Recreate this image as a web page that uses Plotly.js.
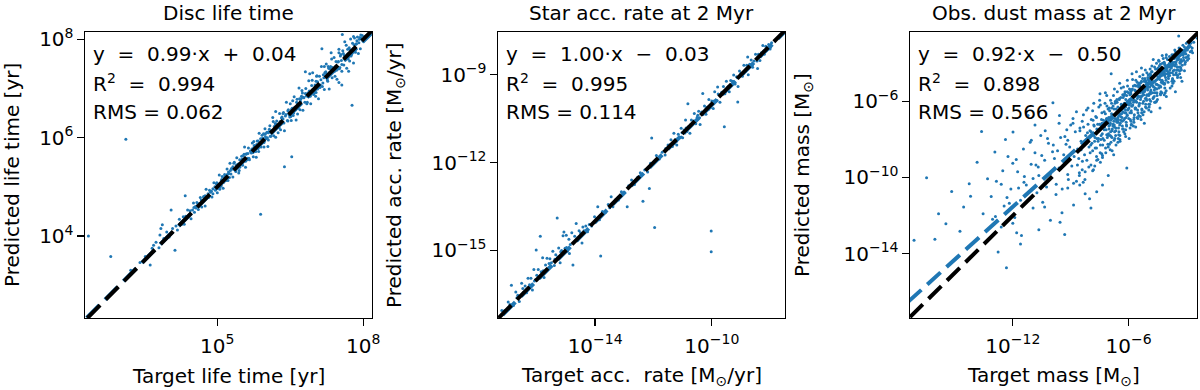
<!DOCTYPE html>
<html>
<head>
<meta charset="utf-8">
<script src="https://cdn.plot.ly/plotly-3.0.1.min.js"></script>
<style>
  html, body { margin: 0; padding: 0; background: #fff; }
  #chart { width: 1200px; height: 390px; }
</style>
</head>
<body>
<div id="chart"></div>
<script>
// all values are log10

// disc life time [yr]
var lifeTarget = [
  2.35, 2.81, 3.12, 3.22, 3.41, 3.52, 3.62, 3.66, 3.69, 3.74,
  3.80, 3.82, 3.84, 3.87, 3.90, 3.96, 4.01, 4.05, 4.08, 4.13,
  4.15, 4.18, 4.22, 4.24, 4.27, 4.30, 4.32, 4.34, 4.36, 4.39,
  4.41, 4.44, 4.46, 4.49, 4.51, 4.53, 4.56, 4.58, 4.61, 4.63,
  4.65, 4.68, 4.70, 4.72, 4.75, 4.77, 4.79, 4.82, 4.84, 4.86,
  4.89, 4.91, 4.93, 4.96, 4.98, 5.00, 5.02, 5.04, 5.06, 5.08,
  5.10, 5.12, 5.14, 5.16, 5.18, 5.20, 5.22, 5.24, 5.26, 5.28,
  5.30, 5.32, 5.34, 5.36, 5.38, 5.40, 5.42, 5.44, 5.46, 5.48,
  5.50, 5.52, 5.54, 5.56, 5.58, 5.60, 5.62, 5.64, 5.66, 5.68,
  5.70, 5.72, 5.74, 5.76, 5.78, 5.80, 5.82, 5.84, 5.86, 5.88,
  5.89, 5.90, 5.92, 5.94, 5.96, 5.98, 6.00, 6.02, 6.04, 6.06,
  6.08, 6.10, 6.12, 6.14, 6.16, 6.18, 6.20, 6.22, 6.24, 6.26,
  6.28, 6.30, 6.32, 6.34, 6.36, 6.38, 6.38, 6.40, 6.42, 6.44,
  6.46, 6.48, 6.50, 6.52, 6.53, 6.54, 6.56, 6.58, 6.60, 6.62,
  6.64, 6.66, 6.68, 6.70, 6.72, 6.74, 6.76, 6.78, 6.80, 6.81,
  6.82, 6.84, 6.86, 6.88, 6.90, 6.92, 6.94, 6.96, 6.98, 7.00,
  7.02, 7.04, 7.06, 7.08, 7.10, 7.12, 7.14, 7.15, 7.16, 7.18,
  7.20, 7.22, 7.24, 7.26, 7.28, 7.30, 7.32, 7.34, 7.36, 7.38,
  7.40, 7.42, 7.44, 7.46, 7.48, 7.50, 7.52, 7.54, 7.56, 7.56,
  7.57, 7.58, 7.60, 7.62, 7.64, 7.66, 7.68, 7.70, 7.72, 7.74,
  7.76, 7.77, 7.78, 7.80, 7.82, 7.84, 7.86, 7.88, 7.90, 7.92,
  7.94, 7.96, 7.98, 8.00, 8.02, 8.05, 7.70, 7.50, 6.90, 6.20,
  4.52, 4.60, 4.67, 4.74, 4.81, 4.88, 4.95, 5.03, 5.09, 5.15,
  5.21, 5.27, 5.33, 5.39, 5.45, 5.51, 5.57, 5.63, 5.69, 5.75,
  5.81, 5.87, 5.93, 5.99, 6.05, 6.11, 6.17, 6.23, 6.29, 6.35,
  6.41, 6.47, 6.53, 6.59, 6.65, 6.71, 6.77, 6.83, 6.89, 6.95,
  7.01, 7.07, 7.13, 7.19, 7.25, 7.31, 7.37, 7.43, 7.49, 7.55,
  7.61, 7.67, 7.73, 7.79, 7.85, 7.91, 7.97, 7.03, 7.27, 7.51,
  5.05, 5.25, 5.45, 5.65, 5.85, 6.05, 6.25, 6.45, 6.65, 6.85,
  5.15, 5.35, 5.55, 5.75, 5.95, 6.15, 6.35, 6.55, 6.75, 6.95,
  7.05, 7.20, 7.35, 7.50, 7.65, 7.80, 7.95, 4.35, 4.55, 4.75,
  4.83, 4.99, 5.13, 5.29, 5.41, 5.59, 5.73, 5.89, 6.03, 6.19,
  6.31, 6.45, 6.61, 6.73, 6.87, 7.03, 7.17, 7.29, 7.41, 7.53,
  7.63, 7.71, 7.83, 7.93, 5.53, 5.79, 6.07, 6.37, 6.69, 6.99,
  7.11, 7.23, 7.47, 7.59, 7.75, 7.87, 5.97, 6.51, 7.33, 7.69,
  4.72, 4.91, 5.23, 5.61, 5.99, 6.27, 6.63, 6.91, 7.21, 7.45,
  5.08, 5.32, 5.58, 5.84, 6.09, 6.33, 6.57, 6.81, 7.06, 7.31,
  7.56, 7.81, 5.19, 5.46, 5.71, 5.96, 6.21, 6.49, 6.75, 6.99
];
var lifePred = [
  4.00, 3.58, 5.97, 3.30, 3.46, 3.58, 3.41, 3.75, 3.81, 3.87,
  3.76, 4.02, 4.15, 4.23, 3.95, 4.08, 3.98, 4.53, 4.15, 3.71,
  4.20, 4.12, 4.34, 4.26, 4.24, 4.39, 4.24, 4.82, 4.37, 4.53,
  4.39, 4.51, 4.35, 4.53, 4.67, 4.48, 4.57, 4.68, 4.54, 4.66,
  4.78, 4.59, 4.72, 4.78, 4.61, 4.95, 4.79, 4.78, 4.93, 4.89,
  4.79, 4.96, 5.08, 4.93, 5.06, 4.88, 5.04, 5.24, 5.00, 5.12,
  5.21, 4.97, 5.15, 5.23, 5.13, 5.36, 5.13, 5.27, 5.48, 5.26,
  5.36, 5.20, 5.48, 5.36, 5.31, 5.59, 5.46, 5.28, 5.55, 5.45,
  5.62, 5.44, 5.56, 5.81, 5.40, 5.67, 5.58, 5.79, 5.55, 5.73,
  5.69, 5.89, 5.61, 5.84, 5.81, 5.60, 5.93, 5.78, 6.09, 5.89,
  4.44, 5.81, 6.05, 5.98, 5.81, 6.18, 5.98, 6.11, 5.82, 6.12,
  6.24, 6.03, 6.14, 6.41, 6.04, 6.23, 6.01, 6.34, 6.24, 6.21,
  6.49, 6.16, 6.40, 6.31, 6.51, 5.41, 6.14, 6.44, 6.72, 6.35,
  6.57, 6.46, 6.69, 6.35, 5.61, 6.60, 6.45, 6.83, 6.61, 6.36,
  6.78, 6.60, 7.01, 6.57, 6.79, 6.96, 6.56, 6.81, 6.72, 7.34,
  7.00, 6.69, 6.91, 7.16, 6.86, 6.69, 7.06, 7.32, 6.88, 7.02,
  6.84, 7.25, 7.14, 6.79, 7.25, 7.07, 7.45, 7.81, 7.04, 7.28,
  6.98, 7.26, 7.50, 7.18, 7.45, 6.99, 7.41, 7.73, 7.22, 7.39,
  7.63, 7.25, 7.55, 7.19, 7.54, 7.80, 7.43, 7.69, 7.07, 7.35,
  8.10, 7.77, 7.48, 7.95, 7.61, 7.41, 7.80, 7.72, 7.56, 8.01,
  7.69, 6.66, 7.92, 7.52, 8.03, 7.74, 7.91, 8.05, 7.71, 8.00,
  7.81, 8.02, 8.08, 7.96, 8.05, 8.07, 7.35, 7.12, 7.30, 6.53,
  4.58, 4.64, 4.73, 4.77, 4.86, 4.91, 5.00, 5.05, 5.15, 5.19,
  5.25, 5.33, 5.36, 5.44, 5.47, 5.56, 5.59, 5.68, 5.71, 5.80,
  5.86, 5.89, 5.99, 6.02, 6.10, 6.13, 6.22, 6.26, 6.33, 6.38,
  6.47, 6.49, 6.58, 6.62, 6.69, 6.74, 6.82, 6.85, 6.95, 6.97,
  7.07, 7.09, 7.18, 7.22, 7.30, 7.33, 7.43, 7.45, 7.55, 7.57,
  7.67, 7.69, 7.79, 7.81, 7.90, 7.93, 8.01, 6.92, 7.15, 7.40,
  4.95, 5.19, 5.33, 5.58, 5.72, 5.95, 6.10, 6.34, 6.48, 6.72,
  5.25, 5.50, 5.66, 5.92, 6.08, 6.33, 6.49, 6.75, 6.91, 7.17,
  7.26, 7.45, 7.60, 7.73, 7.88, 8.06, 8.09, 4.40, 4.60, 4.82,
  4.80, 5.08, 5.09, 5.37, 5.39, 5.66, 5.70, 5.98, 6.00, 6.29,
  6.28, 6.55, 6.57, 6.84, 6.83, 7.15, 7.11, 7.41, 7.35, 7.66,
  7.58, 7.83, 7.78, 8.04, 5.63, 5.72, 6.17, 6.30, 6.79, 6.91,
  7.02, 7.34, 7.39, 7.71, 7.66, 7.97, 6.07, 6.43, 7.45, 7.60,
  4.80, 4.86, 5.30, 5.55, 6.08, 6.20, 6.72, 6.84, 7.32, 7.37,
  5.02, 5.41, 5.52, 5.93, 6.03, 6.42, 6.50, 6.90, 6.99, 7.40,
  7.49, 7.89, 5.24, 5.40, 5.77, 5.90, 6.28, 6.42, 6.82, 6.93
];

// star accretion rate at 2 Myr [Msun/yr]
var accTarget = [
  -17.20, -17.10, -16.98, -16.87, -16.80, -16.72, -16.65, -16.60, -16.52, -16.45,
  -16.40, -16.35, -16.30, -16.25, -16.20, -16.15, -16.10, -16.05, -16.02, -16.00,
  -15.95, -15.90, -15.88, -15.85, -15.80, -15.75, -15.70, -15.65, -15.60, -15.55,
  -15.50, -15.45, -15.40, -15.35, -15.30, -15.28, -15.25, -15.20, -15.15, -15.10,
  -15.07, -15.03, -14.99, -14.95, -14.90, -14.88, -14.85, -14.80, -14.76, -14.70,
  -14.65, -14.60, -14.55, -14.50, -14.45, -14.42, -14.38, -14.32, -14.26, -14.20,
  -14.12, -14.02, -13.95, -13.91, -13.85, -13.81, -13.75, -13.65, -13.55, -13.45,
  -13.39, -13.30, -13.20, -13.10, -13.00, -12.90, -12.85, -12.75, -12.65, -12.55,
  -12.45, -12.36, -12.30, -12.20, -12.14, -12.10, -12.06, -12.00, -11.96, -11.90,
  -11.80, -11.70, -11.60, -11.50, -11.45, -11.40, -11.35, -11.30, -11.25, -11.20,
  -11.15, -11.10, -11.05, -11.00, -10.95, -10.90, -10.85, -10.82, -10.80, -10.75,
  -10.70, -10.65, -10.60, -10.55, -10.50, -10.45, -10.40, -10.35, -10.31, -10.30,
  -10.25, -10.20, -10.15, -10.10, -10.05, -10.02, -10.02, -10.00, -9.95, -9.90,
  -9.85, -9.80, -9.78, -9.72, -9.66, -9.60, -9.57, -9.55, -9.50, -9.45,
  -9.40, -9.35, -9.30, -9.25, -9.20, -9.15, -9.11, -9.10, -9.05, -9.00,
  -8.95, -8.90, -8.85, -8.80, -8.77, -8.75, -8.70, -8.65, -8.60, -8.55,
  -8.50, -8.45, -8.43, -8.40, -8.35, -8.30, -8.25, -8.20, -8.15, -8.10,
  -8.05, -8.00, -7.95, -9.62, -10.48, -11.05, -12.70, -13.50, -8.88, -9.28,
  -11.42, -11.22, -11.02, -10.92, -10.72, -10.62, -10.42, -10.22, -10.12, -9.92,
  -9.82, -9.62, -9.52, -9.42, -9.22, -9.12, -8.92, -8.82, -8.62, -8.42,
  -8.32, -8.22, -8.12, -8.02, -7.98, -11.58, -11.28, -10.88, -10.58, -10.18,
  -16.92, -16.68, -16.48, -16.28, -16.08, -15.78, -15.58, -15.38, -15.18, -14.98
];
var accPred = [
  -17.05, -17.05, -16.76, -16.19, -16.88, -16.42, -16.53, -16.75, -16.12, -16.43,
  -16.22, -16.45, -15.95, -16.17, -15.95, -16.35, -15.65, -16.00, -14.99, -15.85,
  -15.65, -15.95, -14.52, -15.73, -15.25, -15.93, -15.50, -15.27, -15.62, -15.29,
  -15.42, -15.03, -15.52, -15.15, -13.89, -15.23, -14.92, -15.42, -15.00, -14.50,
  -14.37, -14.93, -14.48, -15.03, -14.62, -15.11, -14.80, -14.40, -15.50, -14.52,
  -14.08, -14.65, -14.33, -14.40, -14.75, -14.20, -14.33, -14.17, -14.36, -14.12,
  -14.17, -13.85, -13.93, -13.51, -13.95, -15.19, -13.67, -13.71, -13.43, -13.17,
  -13.51, -13.27, -13.28, -13.00, -13.02, -13.51, -12.79, -12.60, -12.75, -12.51,
  -12.35, -13.32, -12.25, -12.32, -12.89, -12.02, -11.16, -12.04, -14.22, -11.76,
  -11.88, -11.65, -11.74, -11.40, -11.48, -11.22, -11.45, -11.00, -11.23, -11.40,
  -11.03, -11.15, -10.83, -11.15, -10.89, -10.55, -10.94, -9.99, -10.78, -11.00,
  -10.55, -10.67, -10.32, -10.67, -10.45, -10.25, -10.70, -10.27, -9.64, -10.36,
  -10.07, -10.35, -10.11, -9.85, -10.13, -14.34, -15.05, -9.90, -10.15, -9.58,
  -9.90, -9.42, -9.66, -9.94, -9.60, -9.40, -10.78, -9.65, -9.22, -9.42,
  -9.58, -9.20, -9.30, -9.01, -9.32, -9.07, -9.93, -9.40, -8.87, -8.95,
  -9.05, -8.68, -8.89, -8.68, -8.39, -9.00, -8.64, -8.50, -8.74, -8.53,
  -8.30, -8.53, -8.79, -8.30, -8.51, -8.25, -8.00, -8.30, -8.03, -8.12,
  -7.97, -8.12, -7.91, -9.67, -10.38, -11.13, -12.68, -13.54, -8.90, -9.22,
  -11.38, -11.28, -10.98, -10.99, -10.70, -10.58, -10.47, -10.20, -10.19, -9.90,
  -9.88, -9.60, -9.57, -9.40, -9.27, -9.10, -8.96, -8.80, -8.68, -8.40,
  -8.36, -8.19, -8.16, -8.00, -8.05, -11.52, -11.35, -10.82, -10.64, -10.14,
  -16.85, -16.62, -16.30, -16.30, -16.05, -15.70, -15.45, -15.30, -15.05, -14.90
];

// observed dust mass at 2 Myr [Msun]
var dustTarget = [
  -2.62, -2.70, -2.75, -2.80, -2.85, -2.90, -2.95, -3.00, -3.05, -3.10,
  -3.40, -3.15, -3.20, -3.22, -3.28, -3.30, -3.35, -3.38, -3.42, -3.45,
  -3.50, -3.52, -3.55, -3.60, -3.62, -3.65, -3.70, -3.72, -3.75, -3.78,
  -3.80, -3.85, -3.88, -3.90, -3.95, -3.98, -4.02, -4.05, -4.08, -4.10,
  -4.12, -4.15, -4.18, -4.20, -4.22, -4.25, -4.28, -4.30, -4.32, -4.35,
  -4.38, -4.40, -4.42, -4.45, -4.48, -4.50, -4.52, -4.55, -4.58, -4.60,
  -4.62, -4.65, -4.68, -4.70, -4.72, -4.75, -4.78, -4.80, -4.82, -4.85,
  -4.88, -4.90, -4.92, -4.95, -4.98, -5.02, -5.05, -5.08, -5.10, -5.12,
  -5.15, -5.18, -5.20, -5.22, -5.25, -5.28, -5.30, -5.32, -5.35, -5.38,
  -5.40, -5.42, -5.45, -5.48, -5.50, -5.52, -5.55, -5.58, -5.60, -5.62,
  -5.65, -5.68, -5.70, -5.72, -5.75, -5.78, -5.80, -5.82, -5.85, -5.88,
  -5.90, -5.92, -5.95, -5.98, -6.02, -6.05, -6.08, -6.09, -6.10, -6.12,
  -6.15, -6.18, -6.20, -6.22, -6.25, -6.28, -6.30, -6.32, -6.35, -6.38,
  -6.40, -6.42, -6.45, -6.48, -6.50, -6.52, -6.55, -6.58, -6.60, -6.62,
  -6.65, -6.68, -6.70, -6.72, -6.75, -6.78, -6.80, -6.82, -6.85, -6.88,
  -6.90, -6.92, -6.95, -6.98, -7.02, -7.06, -7.10, -7.14, -7.18, -7.22,
  -7.26, -7.30, -7.34, -7.38, -7.42, -7.46, -7.50, -7.54, -7.58, -7.62,
  -7.66, -7.70, -7.74, -7.78, -7.82, -7.86, -7.90, -7.94, -8.02, -8.05,
  -8.10, -8.16, -8.22, -8.28, -8.34, -8.40, -8.46, -8.52, -8.58, -8.64,
  -8.70, -8.76, -8.82, -8.88, -8.94, -9.05, -9.12, -9.20, -9.28, -9.31,
  -9.36, -9.44, -9.52, -9.60, -9.68, -9.76, -9.84, -9.92, -10.05, -10.15,
  -10.25, -10.35, -10.45, -10.55, -10.65, -10.75, -10.85, -10.95, -11.05, -11.21,
  -11.30, -11.45, -11.60, -11.75, -11.90, -11.99, -12.10, -12.25, -12.33, -12.38,
  -12.45, -12.60, -12.76, -12.85, -12.93, -13.12, -13.31, -13.54, -13.62, -14.19,
  -14.26, -14.74, -15.17, -15.47, -16.04, -16.47, -17.12, -11.80, -11.60, -12.00,
  -3.32, -3.48, -3.58, -3.68, -3.82, -3.92, -4.00, -4.14, -4.26, -4.36,
  -4.44, -4.54, -4.64, -4.74, -4.84, -4.94, -5.04, -5.14, -5.24, -5.34,
  -5.44, -5.54, -5.64, -5.74, -5.84, -5.94, -6.04, -6.14, -6.24, -6.34,
  -6.44, -6.54, -6.64, -6.74, -6.84, -6.94, -7.04, -7.24, -7.44, -7.64,
  -2.68, -2.78, -2.88, -2.98, -3.08, -3.18, -3.26, -3.36, -3.46, -3.56,
  -3.64, -3.74, -3.84, -3.94, -4.04, -4.14, -4.24, -4.34, -4.44, -4.54,
  -4.60, -4.66, -4.73, -4.79, -4.86, -4.93, -4.99, -5.06, -5.13, -5.19,
  -5.26, -5.33, -5.39, -5.46, -5.53, -5.59, -5.66, -5.73, -5.79, -5.86,
  -5.93, -5.99, -6.06, -6.13, -6.19, -6.26, -6.33, -6.39, -6.46, -6.53,
  -6.59, -6.66, -6.73, -6.79, -6.86, -6.93, -6.99, -7.06, -7.13, -7.19,
  -7.26, -7.33, -7.39, -7.46, -7.53, -7.59, -7.66, -7.73, -7.79, -7.86,
  -7.93, -7.99, -8.06, -8.13, -8.19, -8.26, -8.33, -8.39, -8.46, -8.53,
  -3.02, -3.12, -3.24, -3.34, -3.44, -3.54, -3.66, -3.76, -3.86, -3.96,
  -4.06, -4.16, -4.26, -4.36, -4.46, -4.56, -4.66, -4.76, -4.86, -4.96,
  -5.06, -5.16, -5.26, -5.36, -5.46, -5.56, -5.66, -5.76, -5.86, -5.96,
  -6.06, -6.16, -6.26, -6.36, -6.46, -6.56, -6.66, -6.76, -6.86, -6.96,
  -7.06, -7.16, -7.26, -7.36, -7.46, -7.56, -7.66, -7.76, -7.86, -7.96,
  -3.10, -3.30, -3.50, -3.70, -3.90, -4.10, -4.30, -4.50, -4.70, -4.90,
  -5.10, -5.30, -5.50, -5.70, -5.90, -6.10, -6.30, -6.50, -6.70, -6.90,
  -4.20, -4.40, -4.60, -4.80, -5.00, -5.20, -5.40, -5.60, -5.80, -6.00,
  -6.20, -6.40, -6.60, -6.80, -7.00, -7.20, -7.40, -7.60, -7.80, -8.00,
  -3.23, -3.57, -4.04, -4.37, -4.83, -5.18, -5.63, -5.97, -6.44, -6.77,
  -7.20, -7.50, -7.80, -8.10, -8.40, -8.70, -9.00, -9.30, -9.60, -9.90,
  -10.20, -10.50, -10.80, -11.10, -11.40, -11.70, -12.00, -12.30, -12.60, -12.90,
  -8.25, -8.55, -8.85, -9.15, -9.45, -9.75, -10.05, -10.35, -10.65, -10.95,
  -7.05, -7.35, -7.65, -7.95, -8.35, -8.65, -9.15, -9.55, -10.85, -11.55,
  -3.05, -3.17, -3.29, -3.41, -3.53, -3.63, -3.71, -3.83, -3.93, -4.03,
  -4.13, -4.23, -4.33, -4.43, -4.53, -4.63, -4.71, -4.81, -4.91, -5.01,
  -5.11, -5.21, -5.31, -5.41, -5.51, -5.61, -5.71, -5.81, -5.91, -6.01,
  -6.11, -6.21, -6.31, -6.41, -6.51, -6.61, -6.71, -6.81, -6.91, -7.01,
  -3.38, -3.62, -3.86, -4.12, -4.38, -4.62, -4.88, -5.14, -5.38, -5.64,
  -5.88, -6.14, -6.38, -6.64, -6.88, -7.14, -7.38, -7.64, -7.88, -8.14,
  -3.45, -3.75, -4.05, -4.35, -4.65, -4.95, -5.25, -5.55, -5.85, -6.15,
  -6.45, -6.75, -7.05, -7.35, -7.65, -7.95, -8.25, -8.55, -8.85, -9.15,
  -7.12, -7.48, -7.84, -8.18, -8.52, -8.88, -9.24, -9.58, -9.94, -10.32,
  -10.68, -11.04, -11.42, -11.82, -12.18, -12.52, -13.05, -13.85, -14.55, -15.85,
  -2.73, -2.83, -2.93, -3.03, -3.13, -3.23, -3.33, -3.43, -3.53, -3.63,
  -3.73, -3.83, -3.93, -4.03, -4.13, -4.23, -4.33, -4.43, -4.53, -4.63,
  -4.73, -4.83, -4.93, -5.03, -5.13, -5.23, -5.33, -5.43, -5.53, -5.63,
  -5.73, -5.83, -5.93, -6.03, -6.13, -6.23, -6.33, -6.43, -6.53, -6.63,
  -6.73, -6.83, -6.93, -7.03, -7.13, -7.23, -3.27, -3.67, -4.07, -4.47,
  -4.87, -5.27, -5.67, -6.07, -6.47, -6.87, -3.47, -3.87, -4.27, -4.67,
  -5.07, -5.47, -5.87, -6.27, -6.67, -7.07, -7.47, -2.95, -3.35, -3.75,
  -4.15, -4.55, -4.95, -5.35, -5.75, -6.15, -6.55, -6.95, -7.35, -7.75
];
var dustPred = [
  -2.90, -3.20, -2.80, -3.40, -3.05, -3.60, -3.30, -2.95, -3.50, -3.15,
  -2.57, -3.70, -3.35, -4.10, -3.55, -3.90, -4.40, -3.20, -3.75, -4.20,
  -3.50, -4.60, -3.95, -3.30, -4.35, -3.70, -4.05, -4.80, -3.55, -4.25,
  -3.90, -4.50, -3.65, -4.15, -5.00, -3.80, -4.40, -3.70, -4.75, -4.10,
  -5.30, -3.95, -4.55, -4.25, -5.00, -3.60, -4.65, -4.35, -5.50, -4.05,
  -4.85, -4.50, -3.90, -5.15, -4.70, -4.30, -5.70, -4.00, -4.90, -4.55,
  -5.30, -4.20, -5.00, -4.70, -3.80, -5.55, -4.45, -5.10, -4.80, -6.00,
  -4.30, -5.25, -4.90, -5.70, -4.60, -5.30, -4.50, -5.85, -5.00, -6.30,
  -4.80, -5.50, -5.20, -6.00, -4.60, -5.70, -5.35, -6.60, -5.00, -5.90,
  -5.55, -4.70, -6.20, -5.25, -5.75, -6.90, -5.00, -6.05, -5.60, -4.90,
  -6.40, -5.40, -5.95, -7.10, -5.20, -6.20, -5.80, -4.55, -6.60, -5.50,
  -6.10, -7.40, -5.35, -6.35, -6.00, -5.20, -6.70, -9.50, -5.70, -7.10,
  -6.30, -5.50, -6.90, -6.10, -7.60, -5.80, -6.55, -7.30, -6.20, -5.30,
  -7.00, -6.40, -8.00, -5.90, -6.75, -7.40, -6.30, -5.50, -7.10, -6.60,
  -8.30, -6.00, -6.90, -7.60, -6.40, -5.70, -7.20, -6.70, -8.60, -6.10,
  -4.55, -7.00, -7.80, -6.50, -7.30, -6.40, -7.90, -6.90, -8.70, -6.10,
  -7.50, -7.00, -8.30, -6.60, -7.80, -9.20, -7.20, -6.30, -8.10, -7.50,
  -8.90, -6.80, -7.90, -7.30, -9.60, -6.50, -8.20, -7.60, -11.12, -8.40,
  -7.20, -9.10, -7.80, -8.80, -6.70, -9.60, -8.10, -7.40, -9.00, -8.50,
  -10.20, -7.60, -8.90, -6.90, -9.40, -8.40, -10.10, -7.50, -9.20, -13.00,
  -8.80, -10.60, -7.90, -9.50, -8.60, -10.90, -9.00, -6.07, -9.80, -8.20,
  -10.50, -9.10, -11.30, -7.80, -9.90, -10.80, -8.70, -11.60, -9.30, -6.74,
  -10.40, -8.50, -11.20, -9.70, -12.10, -7.61, -10.60, -8.90, -14.74, -8.00,
  -11.50, -12.60, -13.92, -10.20, -8.66, -11.00, -10.07, -11.90, -7.58, -10.99,
  -10.33, -12.83, -10.73, -12.43, -13.25, -10.01, -13.30, -12.90, -13.50, -12.40,
  -4.00, -3.85, -4.15, -4.40, -4.05, -4.60, -4.20, -4.45, -4.90, -4.70,
  -4.75, -5.10, -4.60, -5.00, -5.40, -5.05, -5.65, -5.35, -5.45, -5.75,
  -5.15, -5.85, -5.70, -6.05, -6.25, -5.90, -6.45, -6.60, -6.35, -6.85,
  -6.65, -7.10, -6.95, -7.25, -7.45, -7.15, -7.70, -7.35, -8.00, -7.95,
  -3.45, -2.95, -3.75, -3.25, -4.05, -3.05, -4.35, -3.60, -4.75, -3.40,
  -4.95, -4.15, -5.30, -4.45, -3.55, -5.10, -4.00, -5.65, -3.85, -5.35,
  -6.05, -4.95, -5.85, -4.15, -5.50, -6.30, -4.85, -5.95, -4.35, -6.55,
  -5.55, -4.25, -6.80, -5.05, -6.45, -4.45, -5.75, -6.95, -4.85, -7.25,
  -5.65, -6.90, -4.90, -6.15, -7.70, -5.25, -7.05, -6.45, -5.05, -7.95,
  -6.05, -7.55, -5.35, -6.75, -7.90, -5.95, -8.25, -7.15, -5.70, -8.45,
  -6.55, -7.95, -8.75, -6.20, -7.45, -9.05, -6.85, -8.45, -7.80, -9.65,
  -6.95, -8.70, -9.45, -7.65, -8.20, -10.10, -7.35, -9.15, -8.55, -10.40,
  -3.70, -3.40, -3.90, -4.20, -3.65, -4.05, -4.60, -3.95, -4.35, -4.55,
  -4.90, -4.60, -4.95, -5.20, -4.75, -5.10, -5.40, -5.05, -5.60, -5.25,
  -5.70, -5.45, -6.10, -5.80, -6.25, -5.55, -6.35, -5.95, -6.50, -6.20,
  -6.75, -6.45, -7.00, -6.65, -7.25, -6.85, -7.40, -7.05, -7.55, -7.25,
  -7.80, -7.50, -8.05, -7.70, -8.30, -7.95, -8.45, -8.10, -8.60, -8.30,
  -4.40, -4.75, -4.35, -5.05, -4.20, -5.55, -5.00, -5.90, -5.25, -6.15,
  -4.95, -6.45, -5.15, -6.70, -5.40, -7.30, -5.65, -7.60, -6.10, -7.85,
  -3.75, -4.15, -4.30, -4.45, -4.75, -4.95, -5.05, -5.20, -5.35, -5.55,
  -5.60, -5.80, -5.90, -6.25, -6.35, -6.65, -6.95, -7.20, -7.25, -7.55,
  -4.95, -5.50, -5.75, -6.35, -6.55, -7.15, -7.35, -7.95, -8.10, -8.80,
  -5.55, -5.95, -6.10, -6.35, -7.05, -6.55, -7.25, -7.85, -7.15, -8.30,
  -7.95, -8.85, -9.35, -8.15, -9.95, -10.55, -9.25, -11.05, -10.35, -12.05,
  -10.85, -9.75, -11.45, -9.85, -11.85, -10.35, -12.25, -11.55, -12.75, -10.05,
  -9.90, -10.40, -10.75, -11.60, -10.25, -9.35, -8.05, -12.35, -7.25, -13.05,
  -3.95, -3.55, -4.25, -3.80, -4.50, -3.95, -4.85, -4.15, -4.70, -4.35,
  -5.05, -4.55, -5.25, -4.80, -5.55, -4.95, -5.80, -5.15, -5.90, -5.40,
  -6.15, -5.65, -6.40, -5.75, -6.60, -6.00, -6.85, -6.25, -6.95, -6.40,
  -7.25, -6.60, -7.45, -6.80, -7.75, -7.05, -7.95, -7.30, -8.15, -7.45,
  -3.60, -3.75, -4.00, -4.05, -4.35, -4.55, -4.70, -4.90, -5.25, -5.45,
  -5.60, -5.90, -6.15, -6.40, -6.65, -6.95, -7.15, -7.45, -7.70, -7.95,
  -4.65, -4.95, -5.45, -5.60, -6.05, -6.15, -6.70, -6.85, -7.20, -7.50,
  -7.80, -8.05, -8.40, -8.85, -9.10, -9.35, -9.70, -9.90, -10.30, -10.55,
  -6.25, -5.60, -7.00, -6.45, -7.55, -7.15, -8.25, -6.75, -8.65, -7.55,
  -9.45, -8.05, -10.25, -9.05, -11.35, -9.65, -12.20, -9.20, -11.55, -11.90,
  -3.35, -3.10, -3.65, -3.50, -3.85, -3.30, -3.95, -4.35, -3.70, -4.10,
  -4.50, -3.95, -4.80, -4.25, -4.65, -5.05, -4.45, -5.30, -4.85, -5.55,
  -5.20, -4.65, -5.60, -5.05, -5.85, -5.45, -4.95, -6.10, -5.70, -6.35,
  -5.90, -5.40, -6.60, -6.15, -6.85, -5.70, -6.40, -7.15, -6.95, -6.05,
  -7.35, -6.90, -7.60, -6.85, -7.75, -7.15, -3.80, -3.55, -4.55, -4.25,
  -4.55, -4.80, -5.15, -5.50, -5.85, -6.35, -4.20, -4.65, -5.55, -5.75,
  -6.35, -6.75, -7.05, -7.45, -7.80, -8.25, -8.70, -3.85, -4.55, -5.20,
  -5.65, -6.00, -6.45, -6.95, -7.30, -7.85, -8.15, -8.55, -8.95, -9.40
];

var titles = ["Disc life time", "Star acc. rate at 2 Myr", "Obs. dust mass at 2 Myr"];
var xLabels = ["Target life time [yr]", "Target acc.  rate [M<sub>\u2299</sub>/yr]", "Target mass [M<sub>\u2299</sub>]"];
var yLabels = ["Predicted life time [yr]", "Predicted acc. rate [M<sub>\u2299</sub>/yr]", "Predicted mass [M<sub>\u2299</sub>]"];
var fitSlope = [0.99, 1.00, 0.92];
var fitIntercept = [0.04, -0.03, -0.50];
var r2Values = ["0.994", "0.995", "0.898"];
var rmsValues = ["0.062", "0.114", "0.566"];

var targets = [lifeTarget, accTarget, dustTarget];
var preds = [lifePred, accPred, dustPred];

// axis ranges in log10 units
var xRanges = [[2.28, 8.18], [-17.33, -7.49], [-17.33, -2.45]];
var yRanges = [[2.33, 8.15], [-17.31, -7.54], [-17.38, -2.36]];
var xTick0 = [2, -14, -12], xDtick = [3, 4, 6];
var yTick0 = [4, -15, -14], yDtick = [2, 3, 4];

var W = 1200, H = 390;
var boxes = [[85, 372], [498, 785], [910, 1197]];
var plotTop = 32, plotBottom = 318;
var yTitleX = [12, 395, 803];

var BLUE = "#1f77b4";
var FONT = "DejaVu Sans";
var nb = "\u00a0\u00a0";

function pow10(v) { return Math.pow(10, v); }

var traces = [];
var layout = {
  width: W, height: H,
  margin: {l: 0, r: 0, t: 0, b: 0},
  showlegend: false,
  paper_bgcolor: "#fff",
  plot_bgcolor: "#fff",
  font: {family: FONT, size: 20, color: "#000"},
  annotations: []
};

for (var i = 0; i < 3; i++) {
  var s = i === 0 ? "" : String(i + 1);
  var xa = "x" + s, ya = "y" + s;

  traces.push({
    type: "scatter", mode: "markers",
    x: targets[i].map(pow10), y: preds[i].map(pow10),
    xaxis: xa, yaxis: ya,
    marker: {size: 3, color: BLUE, line: {width: 0}},
    hoverinfo: "skip"
  });

  // fit line, drawn from beyond the frame so its dashes sit between the black ones
  var fx = [xRanges[i][0] - 1.1, xRanges[i][1] + 1];
  traces.push({
    type: "scatter", mode: "lines",
    x: fx.map(pow10),
    y: fx.map(function (v) { return pow10(fitSlope[i] * v + fitIntercept[i]); }),
    xaxis: xa, yaxis: ya,
    line: {color: BLUE, width: 4, dash: "18px,8px"},
    hoverinfo: "skip"
  });

  // y = x reference
  var lo = Math.max(xRanges[i][0], yRanges[i][0]);
  var hi = Math.min(xRanges[i][1], yRanges[i][1]) + 0.5;
  traces.push({
    type: "scatter", mode: "lines",
    x: [pow10(lo), pow10(hi)], y: [pow10(lo), pow10(hi)],
    xaxis: xa, yaxis: ya,
    line: {color: "#000", width: 4, dash: "18px,8px"},
    hoverinfo: "skip"
  });

  var axisCommon = {
    type: "log",
    tickmode: "linear",
    exponentformat: "power",
    ticks: "outside", ticklen: 7, tickwidth: 1.3, tickcolor: "#000",
    showline: true, linecolor: "#000", linewidth: 1.3, mirror: true,
    showgrid: false, zeroline: false,
    tickfont: {family: FONT, size: 16, color: "#000"}
  };
  layout["xaxis" + s] = Object.assign({}, axisCommon, {
    domain: [boxes[i][0] / W, boxes[i][1] / W],
    range: xRanges[i], tick0: xTick0[i], dtick: xDtick[i],
    ticklabelstandoff: 3,
    anchor: ya
  });
  layout["yaxis" + s] = Object.assign({}, axisCommon, {
    domain: [1 - plotBottom / H, 1 - plotTop / H],
    range: yRanges[i], tick0: yTick0[i], dtick: yDtick[i],
    anchor: xa
  });

  var ann = layout.annotations;
  ann.push({text: titles[i], xref: xa + " domain", x: 0.5, yref: "paper", y: 1 - 13 / H,
            xanchor: "center", yanchor: "middle", showarrow: false, font: {size: 20}});
  ann.push({text: xLabels[i], xref: xa + " domain", x: 0.5, yref: "paper", y: 1 - 376 / H,
            xanchor: "center", yanchor: "middle", showarrow: false, font: {size: 20}});
  ann.push({text: yLabels[i], xref: "paper", x: yTitleX[i] / W, yref: ya + " domain", y: 0.5,
            xanchor: "center", yanchor: "middle", textangle: -90, showarrow: false, font: {size: 20}});

  var b = fitIntercept[i];
  var fitText = "y" + nb + "=" + nb + fitSlope[i].toFixed(2) + "\u00b7x" + nb +
                (b < 0 ? "\u2212" : "+") + nb + Math.abs(b).toFixed(2);
  var rows = [fitText, "R<sup>2</sup>" + nb + "=" + nb + r2Values[i], "RMS = " + rmsValues[i]];
  var rowY = [53.5, 82.5, 111.5];
  for (var k = 0; k < 3; k++) {
    ann.push({text: rows[k], xref: xa + " domain", x: 0.022, yref: ya + " domain",
              y: (plotBottom - rowY[k]) / (plotBottom - plotTop),
              xanchor: "left", yanchor: "middle", showarrow: false, font: {size: 20}});
  }
}

Plotly.newPlot("chart", traces, layout, {displayModeBar: false, staticPlot: true});
</script>
</body>
</html>
